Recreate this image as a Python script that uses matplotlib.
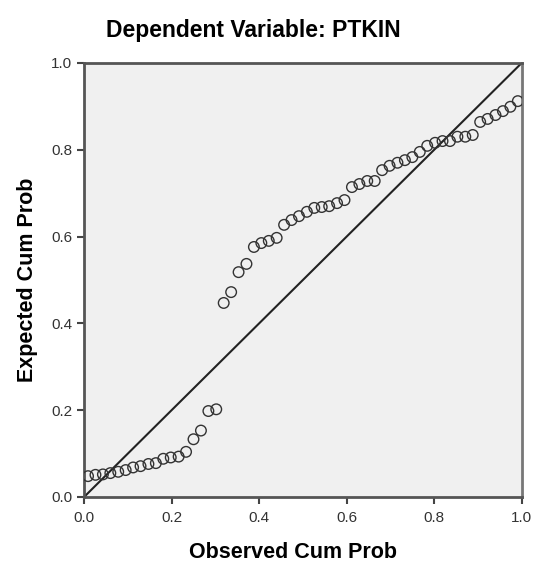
import matplotlib.pyplot as plt

plt.rcParams['font.family'] = ['Liberation Sans', 'DejaVu Sans']

observed = [0.009, 0.026, 0.043, 0.060, 0.078, 0.095, 0.112, 0.129, 0.147, 0.164,
            0.181, 0.198, 0.216, 0.233, 0.250, 0.267, 0.284, 0.302,
            0.319, 0.336, 0.353, 0.371, 0.388, 0.405, 0.422, 0.440, 0.457, 0.474,
            0.491, 0.509, 0.526, 0.543, 0.560, 0.578, 0.595, 0.612, 0.629, 0.647,
            0.664, 0.681, 0.698, 0.716, 0.733, 0.750, 0.767, 0.784, 0.802, 0.819,
            0.836, 0.853, 0.871, 0.888, 0.905, 0.922, 0.940, 0.957, 0.974, 0.991]
expected = [0.048, 0.051, 0.052, 0.055, 0.058, 0.062, 0.068, 0.071, 0.076, 0.078,
            0.088, 0.091, 0.093, 0.104, 0.133, 0.153, 0.198, 0.202,
            0.447, 0.472, 0.518, 0.537, 0.576, 0.585, 0.590, 0.597, 0.627, 0.638,
            0.647, 0.657, 0.666, 0.668, 0.670, 0.677, 0.684, 0.714, 0.721, 0.728,
            0.728, 0.753, 0.763, 0.770, 0.776, 0.783, 0.795, 0.809, 0.816, 0.820,
            0.820, 0.830, 0.830, 0.834, 0.864, 0.871, 0.880, 0.889, 0.899, 0.912]
ticks = [0.0, 0.2, 0.4, 0.6, 0.8, 1.0]

fig = plt.figure(figsize=(5.39, 5.67), dpi=100)
ax = fig.add_axes([0.156, 0.1235, 0.812, 0.7655])
ax.set_facecolor('#f0f0f0')

# reference line
ax.plot([0, 1], [0, 1], color='#222222', lw=1.5, zorder=2)
ax.scatter(observed, expected, s=58, facecolors='none', edgecolors='#333333',
           linewidths=1.0, zorder=3)

ax.set_xlim(0, 1)
ax.set_ylim(0, 1)
ax.set_xticks(ticks)
ax.set_yticks(ticks)
ax.set_xticklabels([f'{t:.1f}' for t in ticks])
ax.set_yticklabels([f'{t:.1f}' for t in ticks])
ax.tick_params(direction='out', length=5, width=1.5, colors='#444444',
               labelsize=11, labelcolor='#333333')
ax.tick_params(axis='x', pad=5)

for side in ['left', 'bottom', 'top', 'right']:
    ax.spines[side].set_color('#555555')
    ax.spines[side].set_linewidth(2)
ax.spines['right'].set_color('#777777')

ax.set_xlabel('Observed Cum Prob', fontsize=15.5, fontweight='bold')
ax.xaxis.set_label_coords(0.478, -0.103)
ax.set_ylabel('Expected Cum Prob', fontsize=15.5, fontweight='bold')
ax.yaxis.set_label_coords(-0.105, 0.5)
fig.text(0.47, 0.947, 'Dependent Variable: PTKIN', fontsize=16.5,
         fontweight='bold', ha='center', va='center')

fig.savefig('out.png', dpi=100)
